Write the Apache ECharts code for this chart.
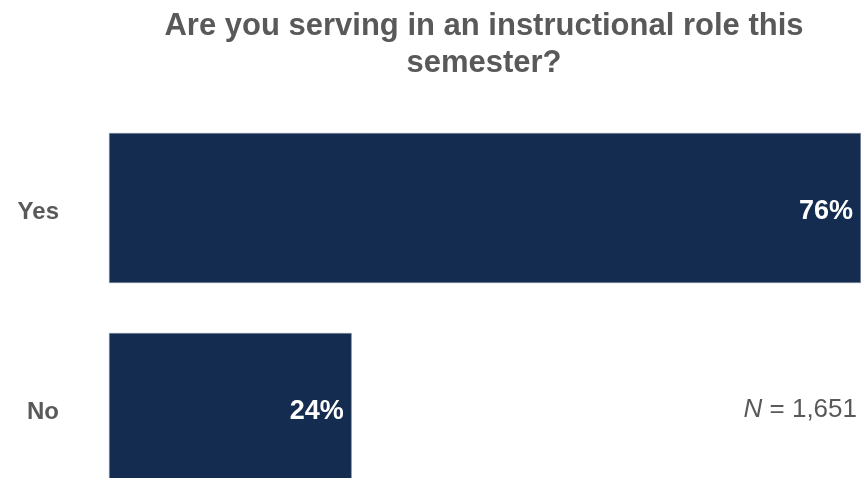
<!DOCTYPE html>
<html>
<head>
<meta charset="utf-8">
<script src="https://cdn.jsdelivr.net/npm/echarts@6/dist/echarts.min.js"></script>
<style>
html,body{margin:0;padding:0;background:#fff;}
#chart{width:861px;height:478px;}
</style>
</head>
<body>
<div id="chart"></div>
<script>
const titleText = 'Are you serving in an instructional role this\nsemester?';
const categories = ['Yes', 'No'];
const values = [75.6, 24.4];
const valueLabels = ['76%', '24%'];
const nNote = 'N = 1,651';

const FONT = '"Liberation Sans", Arial, sans-serif';
const GRAY = '#595959';
const NAVY = '#132C4F';

const chart = echarts.init(document.getElementById('chart'), null, {renderer: 'canvas'});
chart.setOption({
  animation: false,
  backgroundColor: '#ffffff',
  title: {
    text: titleText,
    left: 484,
    textAlign: 'center',
    top: 8,
    padding: 0,
    textStyle: {
      fontFamily: FONT,
      fontWeight: 'bold',
      fontSize: 31,
      lineHeight: 37,
      color: GRAY
    }
  },
  grid: {
    left: 109,
    width: 752,
    top: 108,
    height: 400,
    containLabel: false,
    outerBoundsMode: 'none'
  },
  xAxis: {
    type: 'value',
    min: 0,
    max: values[0],
    show: false
  },
  yAxis: {
    type: 'category',
    data: categories,
    inverse: true,
    axisLine: {show: false},
    axisTick: {show: false},
    splitLine: {show: false},
    axisLabel: {
      margin: 50,
      formatter: v => '{c|' + v + '}',
      rich: {
        c: {
          fontFamily: FONT,
          fontWeight: 'bold',
          fontSize: 24,
          color: GRAY,
          padding: [9, 0, 0, 0]
        }
      }
    }
  },
  series: [{
    type: 'bar',
    data: values,
    barCategoryGap: '25%',
    itemStyle: {
      color: NAVY,
      borderColor: '#8a96a8',
      borderWidth: 0.6
    },
    label: {
      show: true,
      position: 'insideRight',
      distance: 8,
      offset: [0, 4],
      formatter: p => valueLabels[p.dataIndex],
      fontFamily: FONT,
      fontWeight: 'bold',
      fontSize: 27,
      color: '#ffffff'
    }
  }],
  graphic: [{
    type: 'text',
    right: 4,
    top: 397,
    style: {
      text: '{i|N} = 1,651',
      rich: {
        i: {fontStyle: 'italic', fontFamily: FONT, fontSize: 26, fill: GRAY, color: GRAY}
      },
      font: '26px "Liberation Sans", Arial, sans-serif',
      fill: GRAY
    }
  }]
});
</script>
</body>
</html>
